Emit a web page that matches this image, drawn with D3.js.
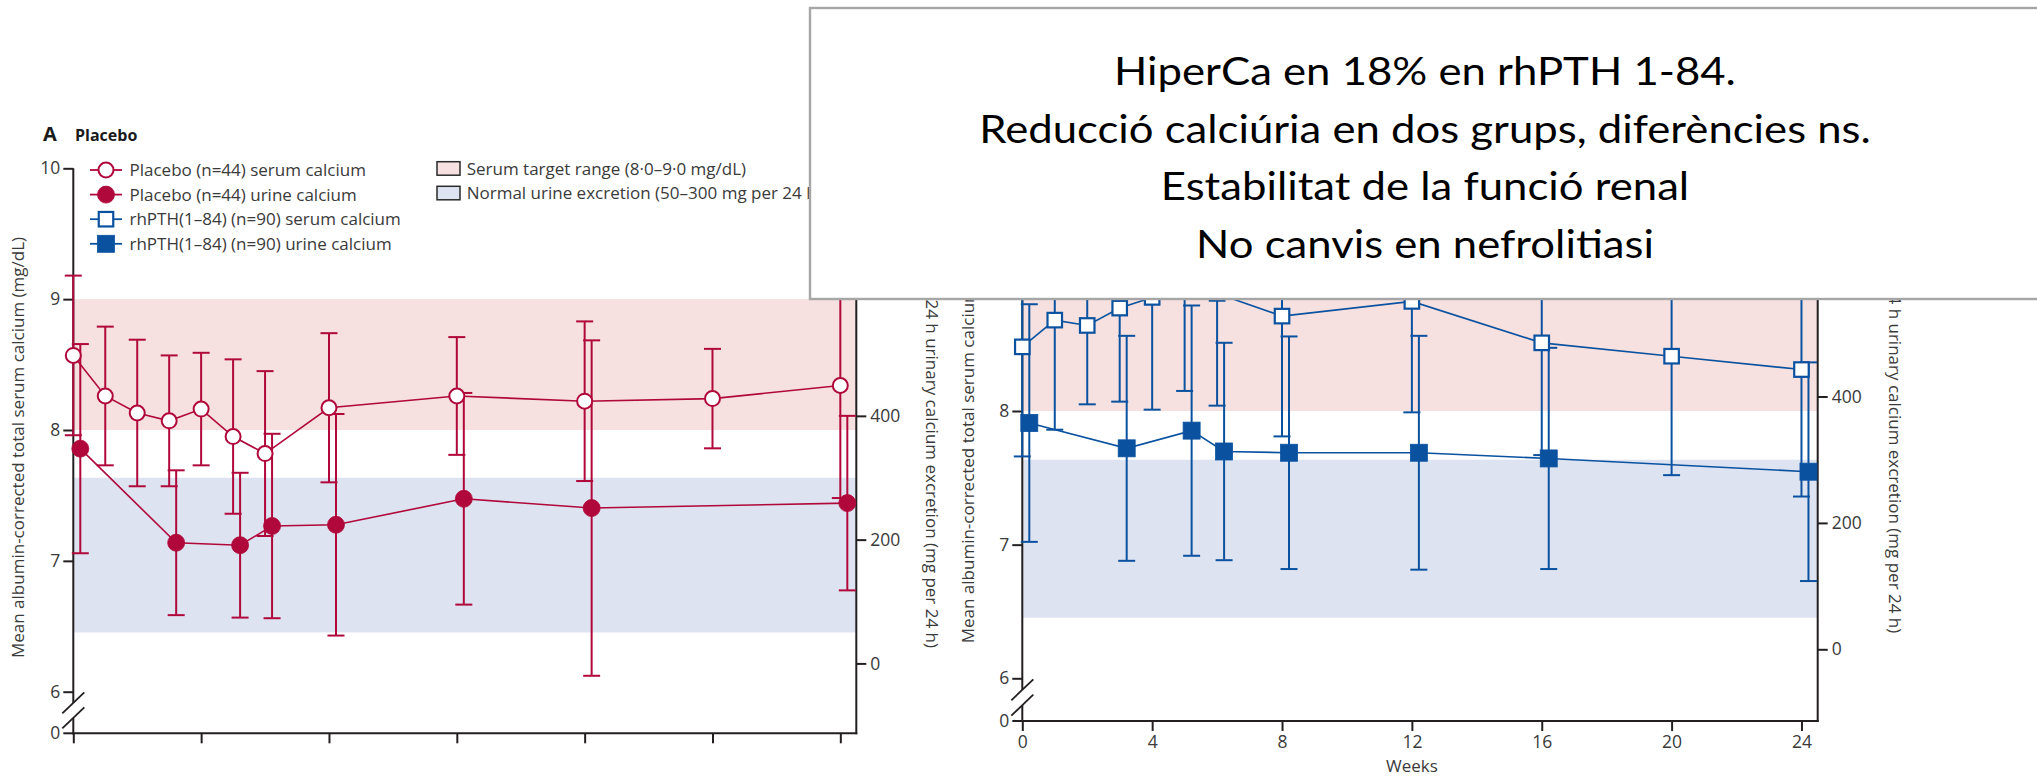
<!DOCTYPE html>
<html>
<head>
<meta charset="utf-8">
<script src="https://cdn.jsdelivr.net/npm/d3@7"></script>
<style>
  html, body { margin: 0; padding: 0; background: #fff; }
  svg { display: block; }
  text { font-family: "Open Sans", "Noto Sans", sans-serif; }
</style>
</head>
<body>
<svg id="chart" width="2037" height="777"></svg>
<script>
// ---- data -------------------------------------------------------------
const weekTicks = [0, 4, 8, 12, 16, 20, 24];
const serumTicks = [6, 7, 8, 9, 10];
const urineTicks = [0, 200, 400, 600, 800];

const serumTargetRange = [8.0, 9.0];     // mg/dL
const urineNormalRange = [50, 300];      // mg per 24 h

// Placebo (n=44)
const placeboSerumWeeks = [0, 1, 2, 3, 4, 5, 6, 8, 12, 16, 20, 24];
const placeboSerumMean  = [8.57, 8.26, 8.13, 8.07, 8.16, 7.95, 7.82, 8.17, 8.26, 8.22, 8.24, 8.34];
const placeboSerumSD    = [0.61, 0.53, 0.56, 0.50, 0.43, 0.59, 0.63, 0.57, 0.45, 0.61, 0.38, 0.86];

const placeboUrineWeeks = [0, 3, 5, 6, 8, 12, 16, 24];
const placeboUrineMean  = [347, 195, 191, 222, 224, 266, 251, 259];
const placeboUrineSD    = [169, 117, 117, 149, 179, 171, 271, 141];

// rhPTH(1-84) (n=90)
const rhpthSerumWeeks = [0, 1, 2, 3, 4, 5, 6, 8, 12, 16, 20, 24];
const rhpthSerumMean  = [8.48, 8.68, 8.64, 8.77, 8.85, 8.95, 8.88, 8.71, 8.82, 8.51, 8.41, 8.31];
const rhpthSerumSD    = [0.82, 0.82, 0.59, 0.70, 0.84, 0.80, 0.84, 0.90, 0.83, 0.84, 0.89, 0.95];

const rhpthUrineWeeks = [0, 3, 5, 6, 8, 12, 16, 24];
const rhpthUrineMean  = [358, 318, 346, 313, 311, 311, 302, 281];
const rhpthUrineSD    = [188, 178, 198, 172, 184, 185, 175, 173];

const legendLabels = [
  "Placebo (n=44) serum calcium",
  "Placebo (n=44) urine calcium",
  "rhPTH(1–84) (n=90) serum calcium",
  "rhPTH(1–84) (n=90) urine calcium"
];
const bandLabels = [
  "Serum target range (8·0–9·0 mg/dL)",
  "Normal urine excretion (50–300 mg per 24 h)"
];
const serumAxisTitle = "Mean albumin-corrected total serum calcium (mg/dL)";
const urineAxisTitle = "24 h urinary calcium excretion (mg per 24 h)";
const weeksTitle = "Weeks";

const noteLines = [
  "HiperCa en 18% en rhPTH 1-84.",
  "Reducció calciúria en dos grups, diferències ns.",
  "Estabilitat de la funció renal",
  "No canvis en nefrolitiasi"
];

// ---- style ------------------------------------------------------------
const RED = "#b0083a";
const BLUE = "#0a52a0";
const PINK = "#f6e1e0";
const LILAC = "#dee3f1";
const AXIS = "#231f20";
const TEXT = "#3a3a3a";
const URINE_DODGE = 7;      // urine markers sit slightly right of the week
const CAP = 8.5;

// summary note box drawn over the top right of the figure
const NOTE = { x: 810, y: 8, w: 1240, h: 291 };
const underNote = (px, py) => px >= NOTE.x && py <= NOTE.y + NOTE.h;

const svg = d3.select("#chart");

const panels = [
  {
    left: 73.3, right: 856.3, top: 168.3, y6: 691.7, bottom: 733.3, u0: 663.4,
    color: RED, shape: "circle", weekLabels: false,
    serum: { weeks: placeboSerumWeeks, mean: placeboSerumMean, sd: placeboSerumSD },
    urine: { weeks: placeboUrineWeeks, mean: placeboUrineMean, sd: placeboUrineSD },
    leftTitleX: 24, leftTitleY: 658, rightTitleX: 925.5, rightTitleY: 648
  },
  {
    left: 1022.3, right: 1817.7, top: 143.7, y6: 678.3, bottom: 721, u0: 649.3,
    color: BLUE, shape: "square", weekLabels: true,
    serum: { weeks: rhpthSerumWeeks, mean: rhpthSerumMean, sd: rhpthSerumSD },
    urine: { weeks: rhpthUrineWeeks, mean: rhpthUrineMean, sd: rhpthUrineSD },
    leftTitleX: 973.5, leftTitleY: 643.3, rightTitleX: 1889, rightTitleY: 633.3
  }
];

function drawMarker(sel, shape, filled, color, cx, cy) {
  if (shape === "circle") {
    sel.append("circle")
      .attr("cx", cx).attr("cy", cy)
      .attr("r", filled ? 8.5 : 7.5)
      .attr("fill", filled ? color : "#fff")
      .attr("stroke", color)
      .attr("stroke-width", filled ? 0.8 : 2);
  } else {
    const s = filled ? 17 : 14.5;
    sel.append("rect")
      .attr("x", cx - s / 2).attr("y", cy - s / 2)
      .attr("width", s).attr("height", s)
      .attr("fill", filled ? color : "#fff")
      .attr("stroke", color)
      .attr("stroke-width", filled ? 0.8 : 2.2);
  }
}

function styleAxis(g) {
  g.attr("font-size", null).attr("font-family", null);
  g.selectAll(".tick line").attr("stroke", AXIS).attr("stroke-width", 2);
  g.selectAll(".tick text").attr("fill", TEXT).style("font-size", "17.5px");
}

const intFormat = d3.format("d");

function drawPanel(p) {
  const g = svg.append("g");
  const x = d3.scaleLinear().domain([0, 24.5]).range([p.left, p.right]);
  const ys = d3.scaleLinear().domain([6, 10]).range([p.y6, p.top]);
  const yu = d3.scaleLinear().domain([0, 800]).range([p.u0, p.top]);

  // reference ranges
  g.append("rect")
    .attr("x", p.left).attr("width", p.right - p.left)
    .attr("y", ys(serumTargetRange[1]))
    .attr("height", ys(serumTargetRange[0]) - ys(serumTargetRange[1]))
    .attr("fill", PINK);
  g.append("rect")
    .attr("x", p.left).attr("width", p.right - p.left)
    .attr("y", yu(urineNormalRange[1]))
    .attr("height", yu(urineNormalRange[0]) - yu(urineNormalRange[1]))
    .attr("fill", LILAC);

  // left (serum) axis with a break between 6 and 0; labels under the note are skipped
  const gl = g.append("g").attr("transform", `translate(${p.left},0)`)
    .call(d3.axisLeft(ys).tickValues(serumTicks)
      .tickFormat(v => underNote(p.left, ys(v)) ? "" : intFormat(v))
      .tickSize(10).tickPadding(3));
  gl.select(".domain").remove();
  styleAxis(gl);
  const span = p.bottom - p.y6;
  const b1 = p.y6 + 0.27 * span, b2 = p.y6 + 0.63 * span;
  g.append("line").attr("x1", p.left).attr("x2", p.left)
    .attr("y1", p.top).attr("y2", b1)
    .attr("stroke", AXIS).attr("stroke-width", 2);
  g.append("line").attr("x1", p.left).attr("x2", p.left)
    .attr("y1", b2).attr("y2", p.bottom + 1)
    .attr("stroke", AXIS).attr("stroke-width", 2);
  [b1, b2].forEach(c => {
    g.append("line")
      .attr("x1", p.left - 11).attr("y1", c + 10.5)
      .attr("x2", p.left + 11).attr("y2", c - 10.5)
      .attr("stroke", AXIS).attr("stroke-width", 1.8);
  });
  g.append("line").attr("x1", p.left - 10).attr("x2", p.left)
    .attr("y1", p.bottom).attr("y2", p.bottom)
    .attr("stroke", AXIS).attr("stroke-width", 2);
  g.append("text").attr("x", p.left - 13).attr("y", p.bottom).attr("dy", "0.32em")
    .attr("text-anchor", "end").attr("fill", TEXT).style("font-size", "17.5px")
    .text("0");

  // right (urine) axis
  const gr = g.append("g").attr("transform", `translate(${p.right},0)`)
    .call(d3.axisRight(yu).tickValues(urineTicks)
      .tickFormat(v => underNote(p.right, yu(v)) ? "" : intFormat(v))
      .tickSize(10).tickPadding(4));
  gr.select(".domain").remove();
  styleAxis(gr);
  g.append("line").attr("x1", p.right).attr("x2", p.right)
    .attr("y1", p.top).attr("y2", p.bottom + 1)
    .attr("stroke", AXIS).attr("stroke-width", 2);

  // bottom (weeks) axis
  const gx = g.append("g").attr("transform", `translate(0,${p.bottom})`)
    .call(d3.axisBottom(x).tickValues(weekTicks).tickSize(10).tickPadding(5)
      .tickFormat(p.weekLabels ? intFormat : () => ""));
  gx.select(".domain").remove();
  styleAxis(gx);
  g.append("line").attr("x1", p.left - 1).attr("x2", p.right + 1)
    .attr("y1", p.bottom).attr("y2", p.bottom)
    .attr("stroke", AXIS).attr("stroke-width", 2);

  if (p.weekLabels) {
    g.append("text")
      .attr("x", x(12)).attr("y", p.bottom + 51)
      .attr("text-anchor", "middle").attr("fill", TEXT).style("font-size", "17px")
      .text(weeksTitle);
  }

  // axis titles
  g.append("text")
    .attr("transform", `translate(${p.leftTitleX},${p.leftTitleY}) rotate(-90)`)
    .attr("fill", TEXT).style("font-size", "17px")
    .text(serumAxisTitle);
  g.append("text")
    .attr("transform", `translate(${p.rightTitleX},${p.rightTitleY}) rotate(90)`)
    .attr("text-anchor", "end")
    .attr("fill", TEXT).style("font-size", "17px")
    .text(urineAxisTitle);

  // series
  const series = [
    { d: p.serum, y: ys, dx: 0, filled: false },
    { d: p.urine, y: yu, dx: URINE_DODGE, filled: true }
  ].map(s => ({
    filled: s.filled,
    pts: s.d.weeks.map((w, i) => ({
      x: x(w) + s.dx,
      y: s.y(s.d.mean[i]),
      hi: s.y(s.d.mean[i] + s.d.sd[i]),
      lo: s.y(s.d.mean[i] - s.d.sd[i])
    }))
  }));

  const bars = g.append("g").attr("stroke", p.color).attr("stroke-width", 2);
  series.forEach(s => {
    s.pts.forEach(pt => {
      bars.append("line").attr("x1", pt.x).attr("x2", pt.x).attr("y1", pt.hi).attr("y2", pt.lo);
      bars.append("line").attr("x1", pt.x - CAP).attr("x2", pt.x + CAP).attr("y1", pt.hi).attr("y2", pt.hi);
      bars.append("line").attr("x1", pt.x - CAP).attr("x2", pt.x + CAP).attr("y1", pt.lo).attr("y2", pt.lo);
    });
  });

  const line = d3.line().x(d => d.x).y(d => d.y);
  series.forEach(s => {
    g.append("path").datum(s.pts)
      .attr("d", line).attr("fill", "none")
      .attr("stroke", p.color).attr("stroke-width", 1.6);
  });

  series.forEach(s => {
    const mg = g.append("g");
    s.pts.forEach(pt => drawMarker(mg, p.shape, s.filled, p.color, pt.x, pt.y));
  });
}

panels.forEach(drawPanel);

// ---- panel heading ----------------------------------------------------
svg.append("text").attr("x", 43).attr("y", 140.5)
  .attr("fill", "#1a1a1a").style("font-size", "20px").style("font-weight", 700)
  .text("A");
svg.append("text").attr("x", 75).attr("y", 140.5)
  .attr("fill", "#1a1a1a").style("font-size", "16px").style("font-weight", 700)
  .text("Placebo");

// ---- legend -----------------------------------------------------------
const legendKeys = [
  { color: RED, shape: "circle", filled: false },
  { color: RED, shape: "circle", filled: true },
  { color: BLUE, shape: "square", filled: false },
  { color: BLUE, shape: "square", filled: true }
];
const lg = svg.append("g");
legendLabels.forEach((label, i) => {
  const base = 176 + i * 24.6;
  const cy = base - 6;
  const k = legendKeys[i];
  lg.append("line").attr("x1", 90).attr("x2", 122).attr("y1", cy).attr("y2", cy)
    .attr("stroke", k.color).attr("stroke-width", 1.8);
  drawMarker(lg, k.shape, k.filled, k.color, 106, cy);
  lg.append("text").attr("x", 129.5).attr("y", base)
    .attr("fill", TEXT).style("font-size", "17px").text(label);
});
[PINK, LILAC].forEach((fill, i) => {
  const top = 161.7 + i * 24.6;
  lg.append("rect").attr("x", 437).attr("y", top).attr("width", 23).attr("height", 13.5)
    .attr("fill", fill).attr("stroke", "#2a2a2a").attr("stroke-width", 1.5);
  lg.append("text").attr("x", 466.7).attr("y", top + 12.8)
    .attr("fill", TEXT).style("font-size", "17px").text(bandLabels[i]);
});

// ---- summary note box -------------------------------------------------
const note = svg.append("g");
note.append("rect")
  .attr("x", NOTE.x).attr("y", NOTE.y).attr("width", NOTE.w).attr("height", NOTE.h)
  .attr("fill", "#fff").attr("stroke", "#a6a6a6").attr("stroke-width", 2.4);
const noteText = note.append("g").attr("transform", "translate(1425,0) scale(1.12,1)");
noteLines.forEach((t, i) => {
  noteText.append("text")
    .attr("x", 0).attr("y", 85 + i * 57.7)
    .attr("text-anchor", "middle")
    .attr("fill", "#000")
    .style("font-family", "Lato, 'Open Sans', sans-serif")
    .style("font-size", "39px")
    .text(t);
});
</script>
</body>
</html>
